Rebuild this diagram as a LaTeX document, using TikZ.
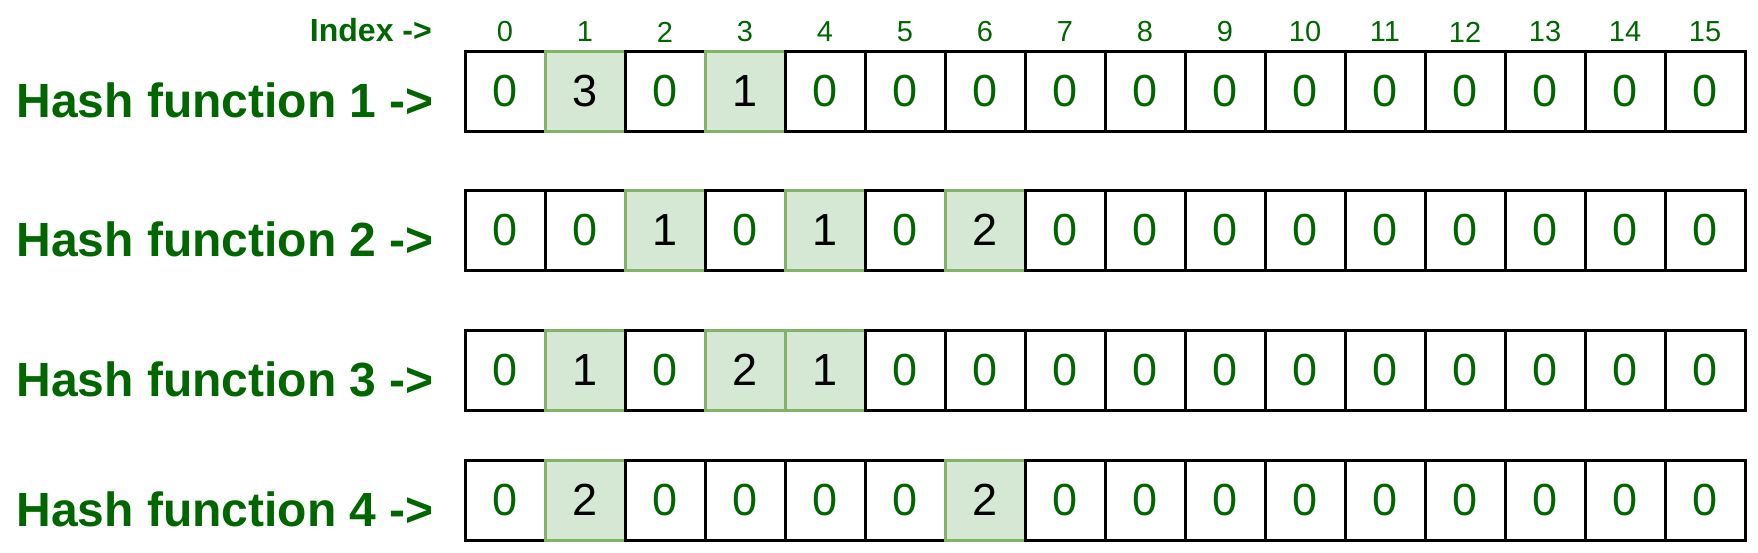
\documentclass[tikz,border=0pt]{standalone}
\usepackage{fontspec}
\setmainfont{Liberation Sans}
\definecolor{gtext}{RGB}{0,102,0}
\definecolor{gfill}{HTML}{D5E8D4}
\definecolor{gline}{HTML}{82B366}
\begin{document}
\begin{tikzpicture}[x=1pt,y=-1pt,
  cellbox/.style={draw=black, fill=white, line width=3pt, minimum width=80pt, minimum height=80pt,
    inner sep=0pt, outer sep=0pt, anchor=north west, text=gtext, font=\fontsize{45}{45}\selectfont},
  hitbox/.style={cellbox, draw=gline, fill=gfill, text=black},
  rowlabel/.style={anchor=base east, text=gtext, font=\fontsize{48}{48}\selectfont\bfseries, inner sep=0pt},
  idxlabel/.style={text=gtext, font=\fontsize{29}{29}\selectfont, inner sep=0pt},
  idxtitle/.style={anchor=base east, text=gtext, font=\fontsize{32}{32}\selectfont\bfseries, inner sep=0pt}]
\useasboundingbox (0,0) rectangle (1758,552);
\node[idxtitle] (idxt) at (432,41) {Index ->};
\foreach \i in {0,...,15} \node[idxlabel] (idx\i) at ({505+80*\i},32) {\i};
\foreach \r/\top/\vals in {1/51/{0,3,0,1,0,0,0,0,0,0,0,0,0,0,0,0},
                           2/190/{0,0,1,0,1,0,2,0,0,0,0,0,0,0,0,0},
                           3/330/{0,1,0,2,1,0,0,0,0,0,0,0,0,0,0,0},
                           4/460/{0,2,0,0,0,0,2,0,0,0,0,0,0,0,0,0}}{
  \node[rowlabel] (lab\r) at (434,{\top+66}) {Hash function \r\ ->};
  \foreach \v [count=\i from 0] in \vals {
    \ifnum\v=0
      \node[cellbox] (c\r-\i) at ({465+80*\i},\top) {\v};
    \else
      \node[hitbox] (c\r-\i) at ({465+80*\i},\top) {\v};
    \fi
  }
}
\end{tikzpicture}
\end{document}
